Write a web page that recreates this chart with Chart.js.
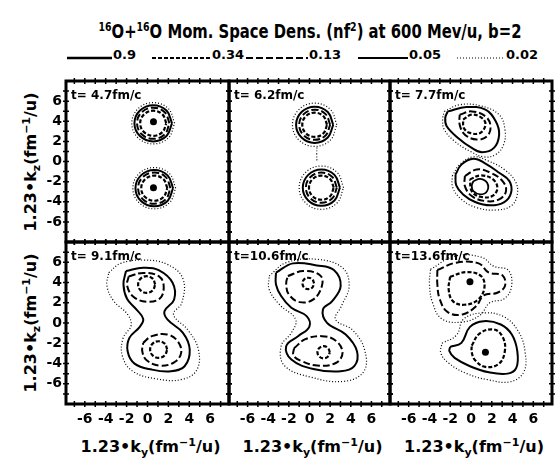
<!DOCTYPE html>
<html>
<head>
<meta charset="utf-8">
<script src="https://cdn.jsdelivr.net/npm/chart.js@4.4.1/dist/chart.umd.min.js"></script>
<style>
  html, body { margin: 0; padding: 0; background: #fff; }
  #page {
    position: relative; width: 556px; height: 466px; overflow: hidden; background: #fff; color: #000;
    font-family: 'DejaVu Sans', sans-serif; font-weight: bold;
  }
  #page canvas { position: absolute; }
  .title { position: absolute; left: 0; width: 620px; top: 17px; text-align: center; font-size: 19px; line-height: 20px; white-space: nowrap; transform: scaleX(0.78); transform-origin: 310px 0; }
  .title sup { font-size: 12px; vertical-align: 7px; }
  .leg { position: absolute; top: 48px; font-size: 13px; line-height: 13px; }
  .ytitle { position: absolute; width: 170px; height: 22px; line-height: 22px; text-align: center; font-size: 16px; transform: rotate(-90deg); white-space: nowrap; }
  .xtitle { position: absolute; width: 170px; height: 22px; line-height: 22px; text-align: center; font-size: 16px; white-space: nowrap; }
  .ytitle sub, .xtitle sub { font-size: 11px; vertical-align: -4px; }
  .ytitle sup, .xtitle sup { font-size: 11px; vertical-align: 6px; }
  svg { position: absolute; left: 0; top: 0; }
</style>
</head>
<body>
<div id="page">
  <div class="title"><sup>16</sup>O+<sup>16</sup>O Mom. Space Dens. (nf<sup>2</sup>) at 600 Mev/u, b=2</div>
  <svg width="556" height="80" id="legendLines"></svg>
</div>
<script>
// Contour levels of the momentum-space density and the times of the six snapshots
const levels = [0.9, 0.34, 0.13, 0.05, 0.02];
const timeLabels = ['t= 4.7fm/c', 't= 6.2fm/c', 't= 7.7fm/c', 't= 9.1fm/c', 't=10.6fm/c', 't=13.6fm/c'];
const tickLabels = [-6, -4, -2, 0, 2, 4, 6];
const minorTicks = [-7, -6, -5, -4, -3, -2, -1, 0, 1, 2, 3, 4, 5, 6, 7];

// Contour lines, [k_y, k_z] points, one list per snapshot
const contours47 = [
  { level: 0.02, pts: [[2.60,3.80],[2.00,5.25],[0.55,5.85],[-0.90,5.25],[-1.50,3.80],[-0.90,2.35],[0.55,1.75],[2.00,2.35]] },
  { level: 0.05, pts: [[2.35,3.80],[1.82,5.07],[0.55,5.60],[-0.72,5.07],[-1.25,3.80],[-0.72,2.53],[0.55,2.00],[1.82,2.53]] },
  { level: 0.13, pts: [[2.10,3.80],[1.65,4.90],[0.55,5.35],[-0.55,4.90],[-1.00,3.80],[-0.55,2.70],[0.55,2.25],[1.65,2.70]] },
  { level: 0.34, pts: [[1.80,3.80],[1.43,4.68],[0.55,5.05],[-0.33,4.68],[-0.70,3.80],[-0.33,2.92],[0.55,2.55],[1.43,2.92]] },
  { level: 0.02, pts: [[2.70,-2.65],[2.10,-1.20],[0.65,-0.60],[-0.80,-1.20],[-1.40,-2.65],[-0.80,-4.10],[0.65,-4.70],[2.10,-4.10]] },
  { level: 0.05, pts: [[2.45,-2.65],[1.92,-1.38],[0.65,-0.85],[-0.62,-1.38],[-1.15,-2.65],[-0.62,-3.92],[0.65,-4.45],[1.92,-3.92]] },
  { level: 0.13, pts: [[2.20,-2.65],[1.75,-1.55],[0.65,-1.10],[-0.45,-1.55],[-0.90,-2.65],[-0.45,-3.75],[0.65,-4.20],[1.75,-3.75]] },
  { level: 0.34, pts: [[1.90,-2.65],[1.53,-1.77],[0.65,-1.40],[-0.23,-1.77],[-0.60,-2.65],[-0.23,-3.53],[0.65,-3.90],[1.53,-3.53]] }
];
const peaks47 = [[0.57, 3.95], [0.57, -2.60]];

const contours62 = [
  { level: 0.02, pts: [[2.65,3.65],[2.02,5.17],[0.50,5.80],[-1.02,5.17],[-1.65,3.65],[-1.02,2.13],[0.50,1.50],[2.02,2.13]] },
  { level: 0.05, pts: [[2.30,3.65],[1.77,4.92],[0.50,5.45],[-0.77,4.92],[-1.30,3.65],[-0.77,2.38],[0.50,1.85],[1.77,2.38]] },
  { level: 0.13, pts: [[2.00,3.65],[1.56,4.71],[0.50,5.15],[-0.56,4.71],[-1.00,3.65],[-0.56,2.59],[0.50,2.15],[1.56,2.59]] },
  { level: 0.34, pts: [[1.70,3.65],[1.35,4.50],[0.50,4.85],[-0.35,4.50],[-0.70,3.65],[-0.35,2.80],[0.50,2.45],[1.35,2.80]] },
  { level: 0.02, pts: [[3.30,-2.60],[2.67,-1.08],[1.15,-0.45],[-0.37,-1.08],[-1.00,-2.60],[-0.37,-4.12],[1.15,-4.75],[2.67,-4.12]] },
  { level: 0.05, pts: [[2.95,-2.60],[2.42,-1.33],[1.15,-0.80],[-0.12,-1.33],[-0.65,-2.60],[-0.12,-3.87],[1.15,-4.40],[2.42,-3.87]] },
  { level: 0.13, pts: [[2.65,-2.60],[2.21,-1.54],[1.15,-1.10],[0.09,-1.54],[-0.35,-2.60],[0.09,-3.66],[1.15,-4.10],[2.21,-3.66]] },
  { level: 0.34, pts: [[2.35,-2.60],[2.00,-1.75],[1.15,-1.40],[0.30,-1.75],[-0.05,-2.60],[0.30,-3.45],[1.15,-3.80],[2.00,-3.45]] },
  { level: 0.02, open: true, pts: [[0.72,1.40],[0.70,0.75],[0.72,0.10]] }
];
const peaks62 = [];

const contours77 = [
  { level: 0.02, pts: [[-2.57,4.98],[-1.09,5.64],[0.89,5.54],[2.71,4.65],[3.27,3.17],[3.14,1.68],[2.38,0.69],[1.22,0.46],[-0.10,1.02],[-1.58,2.01],[-2.57,3.17],[-2.74,4.16]] },
  { level: 0.05, pts: [[-2.24,4.98],[-0.43,5.41],[1.39,5.15],[2.38,3.99],[2.71,2.67],[2.21,1.35],[1.06,0.92],[0.07,1.35],[-1.25,2.34],[-2.34,3.50],[-2.48,4.32]] },
  { level: 0.13, pts: [[-1.09,4.65],[0.07,4.98],[1.39,4.49],[1.88,3.50],[1.55,2.51],[0.56,2.18],[-0.59,2.67],[-1.09,3.66]] },
  { level: 0.34, pts: [[-0.76,4.16],[0.07,4.65],[1.06,4.32],[1.39,3.66],[0.89,2.84],[-0.10,2.84],[-0.69,3.33]] },
  { level: 0.02, pts: [[-1.81,-1.45],[-1.09,-0.30],[0.23,0.46],[1.72,0.03],[3.20,-0.79],[4.26,-1.95],[4.46,-3.27],[3.86,-4.42],[2.38,-4.82],[0.56,-4.59],[-0.92,-3.76],[-1.75,-2.61]] },
  { level: 0.05, pts: [[-1.49,-1.29],[-0.92,-0.30],[0.23,0.27],[1.39,-0.20],[2.71,-1.12],[3.70,-1.95],[3.86,-3.10],[3.20,-4.03],[1.88,-4.36],[0.40,-4.03],[-0.76,-3.27],[-1.42,-2.38]] },
  { level: 0.13, pts: [[-0.59,-1.45],[0.56,-0.79],[1.88,-1.12],[3.04,-1.95],[3.37,-2.94],[2.71,-3.76],[1.39,-3.93],[0.07,-3.43],[-0.59,-2.44]] },
  { level: 0.34, pts: [[-0.10,-1.78],[0.89,-1.39],[2.05,-1.72],[2.54,-2.61],[2.05,-3.43],[0.89,-3.50],[0.07,-2.94]] },
  { level: 0.9, pts: [[0.23,-1.95],[0.89,-1.72],[1.55,-2.11],[1.55,-2.94],[0.89,-3.27],[0.23,-2.94],[0.07,-2.44]] }
];
const peaks77 = [];

const contours91 = [
  { level: 0.02, pts: [[-3.71,4.97],[-2.56,5.89],[-0.41,6.22],[1.90,5.79],[3.39,4.37],[3.29,2.00],[2.49,0.84],[3.88,-0.71],[4.87,-2.62],[4.70,-4.67],[3.22,-5.59],[0.91,-5.53],[-1.40,-4.77],[-2.40,-3.28],[-2.33,-1.47],[-1.57,-0.25],[-1.90,0.84],[-3.22,2.16],[-3.88,3.65]] },
  { level: 0.05, pts: [[-2.06,5.13],[-0.41,5.46],[1.07,5.23],[2.40,3.98],[2.55,2.33],[1.63,1.17],[1.90,0.35],[3.39,-0.97],[4.04,-2.62],[3.55,-4.27],[2.23,-4.77],[0.41,-4.60],[-1.24,-4.01],[-1.90,-2.79],[-1.73,-1.47],[-0.74,-0.38],[-0.41,0.41],[-1.07,1.34],[-1.96,2.39],[-2.30,3.81]] },
  { level: 0.13, pts: [[-1.80,4.60],[-0.41,4.95],[1.10,4.60],[1.55,3.65],[1.20,2.45],[-0.08,2.10],[-1.35,2.60],[-1.95,3.70]] },
  { level: 0.34, pts: [[0.74,3.80],[0.50,4.38],[-0.08,4.62],[-0.66,4.38],[-0.90,3.80],[-0.66,3.22],[-0.08,2.98],[0.50,3.22]] },
  { level: 0.13, pts: [[-0.41,-1.96],[0.41,-1.30],[1.90,-1.14],[2.89,-1.80],[3.22,-2.95],[2.55,-3.88],[1.17,-4.21],[-0.08,-3.68],[-0.50,-2.79]] },
  { level: 0.34, pts: [[1.89,-2.62],[1.65,-2.04],[1.07,-1.80],[0.49,-2.04],[0.25,-2.62],[0.49,-3.20],[1.07,-3.44],[1.65,-3.20]] }
];
const peaks91 = [];

const contours106 = [
  { level: 0.02, pts: [[-3.91,4.64],[-2.26,5.96],[0.71,6.29],[3.19,5.46],[3.84,3.65],[3.09,1.67],[2.52,0.35],[4.18,-0.71],[5.33,-2.62],[5.27,-4.77],[3.35,-5.76],[0.05,-5.33],[-2.43,-4.21],[-2.75,-2.29],[-1.76,-0.97],[-1.34,0.35],[-2.92,1.83],[-3.91,3.32]] },
  { level: 0.05, pts: [[-3.25,4.97],[-1.60,5.89],[0.71,5.69],[2.36,5.23],[3.02,3.65],[2.20,2.16],[1.30,1.34],[1.70,0.02],[3.51,-1.14],[4.60,-2.79],[4.34,-4.27],[3.02,-4.77],[0.38,-4.54],[-1.76,-3.61],[-2.26,-2.29],[-1.11,-1.30],[-0.02,-0.38],[-0.28,0.68],[-1.76,1.50],[-2.75,2.66],[-3.25,3.81]] },
  { level: 0.13, pts: [[-2.10,4.64],[-0.61,5.13],[1.04,4.70],[1.20,3.65],[0.38,2.33],[-0.94,2.06],[-2.00,2.82],[-2.26,3.91]] },
  { level: 0.34, pts: [[0.44,3.91],[0.28,4.31],[-0.12,4.47],[-0.52,4.31],[-0.68,3.91],[-0.52,3.51],[-0.12,3.35],[0.28,3.51]] },
  { level: 0.13, pts: [[-1.50,-2.50],[-0.40,-1.60],[1.20,-1.30],[2.55,-1.75],[3.20,-2.95],[2.55,-3.95],[0.75,-4.20],[-0.80,-3.75],[-1.55,-3.20]] },
  { level: 0.34, pts: [[1.97,-2.89],[1.79,-2.47],[1.37,-2.29],[0.95,-2.47],[0.77,-2.89],[0.95,-3.31],[1.37,-3.49],[1.79,-3.31]] }
];
const peaks106 = [];

const contours136 = [
  { level: 0.02, pts: [[-3.90,5.30],[-1.60,6.60],[1.00,6.50],[2.20,5.60],[3.60,5.20],[3.90,3.60],[3.20,2.40],[1.80,2.00],[0.90,0.80],[-0.80,0.10],[-2.80,0.40],[-3.70,2.00],[-4.00,3.80]] },
  { level: 0.13, pts: [[-3.24,5.23],[-1.42,5.96],[0.73,5.89],[1.72,4.97],[3.04,4.70],[3.27,3.65],[2.54,2.99],[1.22,2.72],[0.50,1.67],[-0.82,0.84],[-2.24,1.07],[-3.00,2.33],[-3.24,3.81]] },
  { level: 0.34, pts: [[-2.01,4.57],[-0.43,5.03],[0.96,4.64],[1.29,3.48],[0.63,2.26],[-0.69,1.80],[-1.75,2.16],[-2.15,3.32]] },
  { level: 0.02, pts: [[-2.80,-2.00],[-1.40,-1.20],[-0.70,0.40],[1.20,1.00],[3.20,0.60],[4.60,-0.90],[5.20,-2.80],[5.10,-4.80],[3.80,-5.80],[1.60,-5.60],[-0.40,-5.00],[-2.10,-4.00],[-2.90,-3.00]] },
  { level: 0.05, pts: [[-2.01,-2.36],[-0.92,-1.96],[-0.10,-0.38],[1.22,0.18],[2.87,-0.15],[3.93,-1.14],[4.46,-2.79],[4.36,-4.44],[3.53,-5.00],[1.72,-4.87],[-0.10,-4.27],[-1.58,-3.45],[-2.08,-2.79]] },
  { level: 0.34, pts: [[0.07,-2.23],[0.82,-1.04],[2.21,-0.64],[3.04,-1.37],[3.27,-2.69],[2.71,-4.01],[1.39,-4.34],[0.40,-3.68],[0.07,-2.89]] }
];
const peaks136 = [[-0.10, 4.08], [1.39, -2.89]];

const panelContours = [contours47, contours62, contours77, contours91, contours106, contours136];
const panelPeaks = [peaks47, peaks62, peaks77, peaks91, peaks106, peaks136];

// Line style for each contour level
const levelStyle = {
  0.9:  { width: 1.8, dash: [] },
  0.34: { width: 2.2, dash: [4, 2] },
  0.13: { width: 2.0, dash: [7, 3] },
  0.05: { width: 2.0, dash: [] },
  0.02: { width: 1.2, dash: [1, 2] }
};

const FONT = "'DejaVu Sans', sans-serif";

// Panel grid (page pixels)
const colEdges = [66, 229, 390, 552];
const rowEdges = [81, 242, 404];
const PAD = 6;

const page = document.getElementById('page');

// Legend: line samples and level values
const legendSpans = [[67, 112], [152, 211], [246, 308], [358, 408], [457, 505]];
const svg = document.getElementById('legendLines');
levels.forEach((lv, i) => {
  const st = levelStyle[lv];
  const [x1, x2] = legendSpans[i];
  const ln = document.createElementNS('http://www.w3.org/2000/svg', 'line');
  ln.setAttribute('x1', x1); ln.setAttribute('x2', x2);
  ln.setAttribute('y1', 58); ln.setAttribute('y2', 58);
  ln.setAttribute('stroke', '#000');
  ln.setAttribute('stroke-width', lv === 0.9 ? 2.6 : st.width);
  if (st.dash.length) ln.setAttribute('stroke-dasharray', st.dash.join(' '));
  svg.appendChild(ln);
  const lab = document.createElement('div');
  lab.className = 'leg';
  lab.style.left = (x2 + 1) + 'px';
  lab.textContent = String(lv);
  page.appendChild(lab);
});

// Axis titles
[0, 1].forEach(r => {
  const d = document.createElement('div');
  d.className = 'ytitle';
  const cy = (rowEdges[r] + rowEdges[r + 1]) / 2;
  d.style.left = (27 - 85) + 'px';
  d.style.top = (cy - 11) + 'px';
  d.innerHTML = '1.23•k<sub>z</sub>(fm<sup>−1</sup>/u)';
  page.appendChild(d);
});
[0, 1, 2].forEach(c => {
  const d = document.createElement('div');
  d.className = 'xtitle';
  const cx = (colEdges[c] + colEdges[c + 1]) / 2 + 3;
  d.style.left = (cx - 85) + 'px';
  d.style.top = (443 - 11) + 'px';
  d.innerHTML = '1.23•k<sub>y</sub>(fm<sup>−1</sup>/u)';
  page.appendChild(d);
});

// Frame, tick marks on all four sides and the time label of each panel
const framePlugin = {
  id: 'frame',
  afterDatasetsDraw(chart, args, opts) {
    const { ctx, chartArea: a } = chart;
    const xs = chart.scales.x, ys = chart.scales.y;
    ctx.save();
    ctx.strokeStyle = '#000';
    ctx.lineWidth = 3;
    ctx.strokeRect(a.left, a.top, a.right - a.left, a.bottom - a.top);
    ctx.lineWidth = 1.5;
    ctx.beginPath();
    minorTicks.forEach(v => {
      const px = xs.getPixelForValue(v), py = ys.getPixelForValue(v);
      ctx.moveTo(px, a.top - 3); ctx.lineTo(px, a.top + 3);
      ctx.moveTo(px, a.bottom - 3); ctx.lineTo(px, a.bottom + 3);
      ctx.moveTo(a.left - 3, py); ctx.lineTo(a.left + 3, py);
      ctx.moveTo(a.right - 3, py); ctx.lineTo(a.right + 3, py);
    });
    ctx.stroke();
    ctx.fillStyle = '#000';
    ctx.font = 'bold 12px ' + FONT;
    ctx.textBaseline = 'alphabetic';
    ctx.fillText(opts.label, a.left + 5, a.top + 18);
    ctx.restore();
  }
};

function toPoints(pts, open) {
  const list = open ? pts : pts.concat([pts[0]]);
  return list.map(([x, y]) => ({ x, y }));
}

const tickFont = { family: FONT, size: 14, weight: 'bold' };

panelContours.forEach((contours, idx) => {
  const c = idx % 3, r = Math.floor(idx / 3);
  const showY = c === 0, showX = r === 1;
  const yW = showY ? 46 : 0, xH = showX ? 26 : 0;
  const L = colEdges[c], R = colEdges[c + 1], T = rowEdges[r], B = rowEdges[r + 1];

  const canvas = document.createElement('canvas');
  const w = PAD + yW + (R - L) + PAD, h = PAD + (B - T) + xH + PAD;
  canvas.width = w; canvas.height = h;
  canvas.style.width = w + 'px'; canvas.style.height = h + 'px';
  canvas.style.left = (L - PAD - yW) + 'px';
  canvas.style.top = (T - PAD) + 'px';
  page.appendChild(canvas);

  const datasets = contours.map(ct => {
    const st = levelStyle[ct.level];
    return {
      data: toPoints(ct.pts, ct.open),
      showLine: true, pointRadius: 0, pointHitRadius: 0,
      borderColor: '#000', borderWidth: st.width, borderDash: st.dash,
      tension: 0.4, fill: false
    };
  });
  if (panelPeaks[idx].length) {
    datasets.push({
      data: panelPeaks[idx].map(([x, y]) => ({ x, y })),
      showLine: false, pointRadius: 3.5, pointBackgroundColor: '#000', pointBorderWidth: 0
    });
  }

  new Chart(canvas, {
    type: 'scatter',
    data: { datasets },
    options: {
      responsive: false, animation: false, devicePixelRatio: 1,
      layout: { autoPadding: false, padding: { left: PAD, right: PAD, top: PAD, bottom: PAD } },
      plugins: { legend: { display: false }, tooltip: { enabled: false }, frame: { label: timeLabels[idx] } },
      scales: {
        x: {
          type: 'linear', min: -7.8, max: 7.8,
          grid: { display: false, drawTicks: false }, border: { display: false },
          ticks: {
            display: showX, stepSize: 1, autoSkip: false, maxRotation: 0, padding: 7,
            color: '#000', font: tickFont,
            callback: v => tickLabels.includes(v) ? String(v) : ''
          },
          afterFit: s => { s.height = xH; s.paddingLeft = 0; s.paddingRight = 0; }
        },
        y: {
          type: 'linear', min: -8, max: 8,
          grid: { display: false, drawTicks: false }, border: { display: false },
          ticks: {
            display: showY, stepSize: 1, autoSkip: false, padding: 4,
            color: '#000', font: tickFont,
            callback: v => tickLabels.includes(v) ? String(v) : ''
          },
          afterFit: s => { s.width = yW; s.paddingTop = 0; s.paddingBottom = 0; }
        }
      }
    },
    plugins: [framePlugin]
  });
});
</script>
</body>
</html>
